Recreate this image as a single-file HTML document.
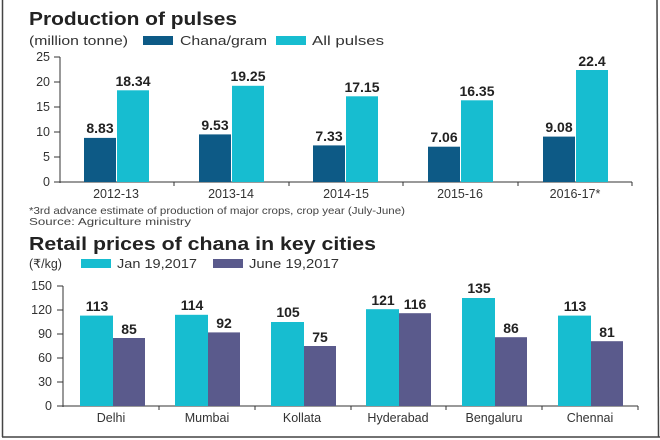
<!DOCTYPE html>
<html><head><meta charset="utf-8"><style>
body{margin:0;background:#fff}
svg{display:block;font-family:"Liberation Sans",sans-serif}
</style></head><body>
<svg width="660" height="440" viewBox="0 0 660 440">
<rect x="0" y="0" width="660" height="440" fill="#fff"/>
<line x1="2.5" y1="0" x2="2.5" y2="437" stroke="#444" stroke-width="1.5"/>
<line x1="2" y1="437" x2="660" y2="437" stroke="#444" stroke-width="1.5"/>
<line x1="657" y1="0" x2="658.5" y2="437" stroke="#444" stroke-width="1.5"/>

<text x="29" y="25" font-size="18" font-weight="bold" fill="#222" textLength="208" lengthAdjust="spacingAndGlyphs">Production of pulses</text>
<text x="29" y="45" font-size="12.5" fill="#333" textLength="99" lengthAdjust="spacingAndGlyphs">(million tonne)</text>
<rect x="143" y="36" width="30" height="9" fill="#0d5a86"/>
<text x="180" y="45" font-size="12.5" fill="#333" textLength="87" lengthAdjust="spacingAndGlyphs">Chana/gram</text>
<rect x="276" y="36" width="30" height="9" fill="#17bdd0"/>
<text x="312" y="45" font-size="12.5" fill="#333" textLength="72" lengthAdjust="spacingAndGlyphs">All pulses</text>

<g font-size="12.5" fill="#333" text-anchor="end">
<text x="50" y="186">0</text><text x="50" y="161">5</text><text x="50" y="136">10</text>
<text x="50" y="111">15</text><text x="50" y="86">20</text><text x="50" y="61">25</text>
</g>
<g stroke="#333" stroke-width="1">
<line x1="60" y1="57" x2="60" y2="183"/>
<line x1="54" y1="182" x2="632" y2="182"/>
<line x1="54" y1="57" x2="60" y2="57"/><line x1="54" y1="82" x2="60" y2="82"/><line x1="54" y1="107" x2="60" y2="107"/><line x1="54" y1="132" x2="60" y2="132"/><line x1="54" y1="157" x2="60" y2="157"/>
<line x1="174" y1="182" x2="174" y2="186"/><line x1="289" y1="182" x2="289" y2="186"/><line x1="403" y1="182" x2="403" y2="186"/><line x1="518" y1="182" x2="518" y2="186"/><line x1="632" y1="182" x2="632" y2="186"/>
</g>
<g fill="#0d5a86">
<rect x="84" y="137.9" width="32" height="44.1"/>
<rect x="199" y="134.4" width="32" height="47.6"/>
<rect x="313" y="145.4" width="32" height="36.6"/>
<rect x="428" y="146.7" width="32" height="35.3"/>
<rect x="543" y="136.6" width="32" height="45.4"/>
</g>
<g fill="#17bdd0">
<rect x="117" y="90.3" width="32" height="91.7"/>
<rect x="232" y="85.8" width="32" height="96.2"/>
<rect x="346" y="96.3" width="32" height="85.7"/>
<rect x="461" y="100.3" width="32" height="81.7"/>
<rect x="576" y="70" width="32" height="112"/>
</g>
<g font-size="14" font-weight="bold" fill="#222" text-anchor="middle">
<text x="100" y="133">8.83</text><text x="133" y="86">18.34</text>
<text x="215" y="130">9.53</text><text x="248" y="81">19.25</text>
<text x="329" y="141">7.33</text><text x="362" y="92">17.15</text>
<text x="444" y="142">7.06</text><text x="477" y="96">16.35</text>
<text x="559" y="132">9.08</text><text x="592" y="66">22.4</text>
</g>
<g font-size="12.5" fill="#333" text-anchor="middle">
<text x="116" y="198">2012-13</text><text x="231" y="198">2013-14</text><text x="346" y="198">2014-15</text><text x="460" y="198">2015-16</text><text x="575" y="198">2016-17*</text>
</g>
<text x="29" y="214" font-size="10.5" fill="#444" textLength="376" lengthAdjust="spacingAndGlyphs">*3rd advance estimate of production of major crops, crop year (July-June)</text>
<text x="29" y="225" font-size="10.5" fill="#444" textLength="162" lengthAdjust="spacingAndGlyphs">Source: Agriculture ministry</text>

<text x="29" y="250" font-size="18" font-weight="bold" fill="#222" textLength="347" lengthAdjust="spacingAndGlyphs">Retail prices of chana in key cities</text>
<text x="29" y="268" font-size="12.5" fill="#333">(₹/kg)</text>
<rect x="81" y="259" width="30" height="9" fill="#17bdd0"/>
<text x="117" y="268" font-size="12.5" fill="#333" textLength="80" lengthAdjust="spacingAndGlyphs">Jan 19,2017</text>
<rect x="213" y="259" width="30" height="9" fill="#5a5a8c"/>
<text x="249" y="268" font-size="12.5" fill="#333" textLength="90" lengthAdjust="spacingAndGlyphs">June 19,2017</text>

<g font-size="12.5" fill="#333" text-anchor="end">
<text x="52" y="410">0</text><text x="52" y="386">30</text><text x="52" y="362">60</text>
<text x="52" y="338">90</text><text x="52" y="314">120</text><text x="52" y="290">150</text>
</g>
<g stroke="#333" stroke-width="1">
<line x1="63" y1="286" x2="63" y2="407"/>
<line x1="57" y1="406" x2="638" y2="406"/>
<line x1="57" y1="286" x2="63" y2="286"/><line x1="57" y1="310" x2="63" y2="310"/><line x1="57" y1="334" x2="63" y2="334"/><line x1="57" y1="358" x2="63" y2="358"/><line x1="57" y1="382" x2="63" y2="382"/>
<line x1="159" y1="406" x2="159" y2="410"/><line x1="255" y1="406" x2="255" y2="410"/><line x1="351" y1="406" x2="351" y2="410"/><line x1="446" y1="406" x2="446" y2="410"/><line x1="542" y1="406" x2="542" y2="410"/><line x1="638" y1="406" x2="638" y2="410"/>
</g>
<g fill="#17bdd0">
<rect x="80" y="315.6" width="33" height="90.4"/>
<rect x="175" y="314.8" width="33" height="91.2"/>
<rect x="271" y="322" width="33" height="84"/>
<rect x="366" y="309.2" width="33" height="96.8"/>
<rect x="462" y="298" width="33" height="108"/>
<rect x="558" y="315.6" width="33" height="90.4"/>
</g>
<g fill="#5a5a8c">
<rect x="113" y="338" width="32" height="68"/>
<rect x="208" y="332.4" width="32" height="73.6"/>
<rect x="304" y="346" width="32" height="60"/>
<rect x="399" y="313.2" width="32" height="92.8"/>
<rect x="495" y="337.2" width="32" height="68.8"/>
<rect x="591" y="341.2" width="32" height="64.8"/>
</g>
<g font-size="14" font-weight="bold" fill="#222" text-anchor="middle">
<text x="97" y="311">113</text><text x="129" y="334">85</text>
<text x="192" y="310">114</text><text x="224" y="328">92</text>
<text x="288" y="317">105</text><text x="320" y="342">75</text>
<text x="383" y="305">121</text><text x="415" y="309">116</text>
<text x="479" y="293">135</text><text x="511" y="333">86</text>
<text x="575" y="311">113</text><text x="607" y="337">81</text>
</g>
<g font-size="12.5" fill="#333" text-anchor="middle">
<text x="111" y="422">Delhi</text><text x="207" y="422">Mumbai</text><text x="302" y="422">Kollata</text><text x="398" y="422">Hyderabad</text><text x="494" y="422">Bengaluru</text><text x="590" y="422">Chennai</text>
</g>
</svg>
</body></html>
